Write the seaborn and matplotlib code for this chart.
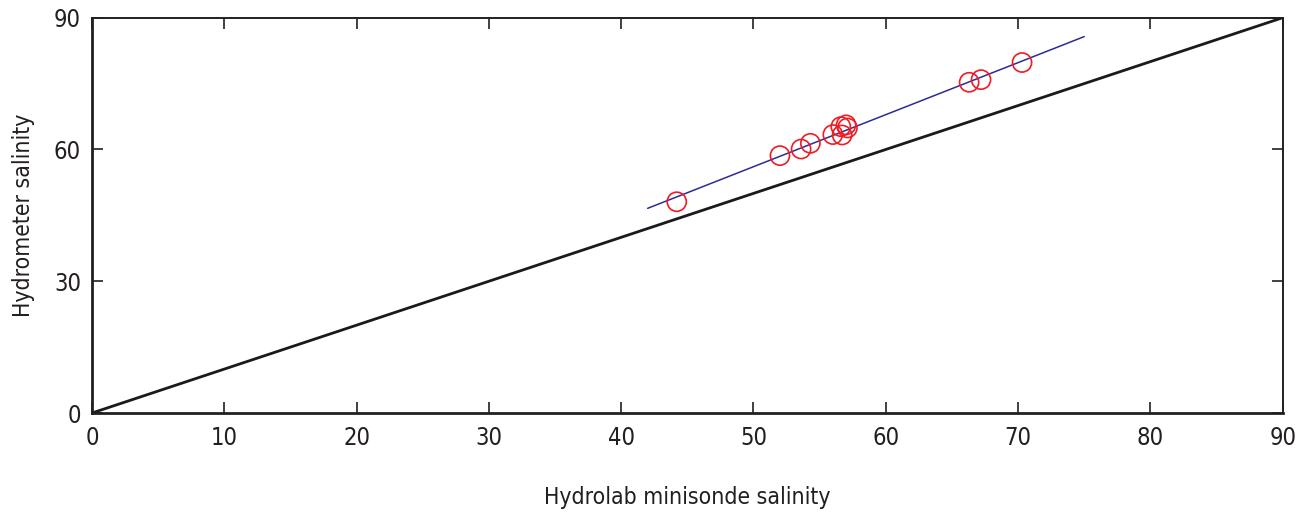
import numpy as np
import pandas as pd
import seaborn as sns
from matplotlib import pyplot as plt

# salinity readings
hydrolab = [44.2, 52.0, 53.6, 54.3, 56.0, 56.6, 56.7, 57.0, 57.1, 66.3, 67.2, 70.3]
hydrometer = [48.1, 58.6, 60.1, 61.4, 63.4, 65.2, 63.3, 65.6, 64.9, 75.3, 75.9, 79.8]

# fitted line end points and 1:1 line
fit_x = [42.0, 75.0]
fit_y = [46.6, 85.7]
one_x = [0, 90]
one_y = [0, 90]

ticks_x = [0, 10, 20, 30, 40, 50, 60, 70, 80, 90]
ticks_y = [0, 30, 60, 90]

df = pd.DataFrame({'hydrolab': hydrolab, 'hydrometer': hydrometer})

sns.set_theme(style='ticks')
plt.rcParams['font.family'] = ['DejaVu Sans']
plt.rcParams['font.stretch'] = 'condensed'

fig = plt.figure(figsize=(13.05, 5.18), dpi=100)
ax = fig.add_axes([0.0705, 0.2027, 0.9124, 0.7631])

sns.lineplot(x=one_x, y=one_y, ax=ax, color='#1a1a1a', linewidth=2.0)
sns.lineplot(x=fit_x, y=fit_y, ax=ax, color='#2b2b96', linewidth=1.1)
sns.scatterplot(data=df, x='hydrolab', y='hydrometer', ax=ax, marker='o', s=190,
                facecolor='none', edgecolor='#ee1c24', linewidth=1.2, zorder=5)

ax.set_xlim(0, 90)
ax.set_ylim(0, 90)
ax.set_xticks(ticks_x)
ax.set_yticks(ticks_y)
ax.tick_params(direction='in', length=8, width=1.2, top=True, right=True,
               labelsize=17, colors='#231f20')
ax.tick_params(axis='x', pad=9)
ax.tick_params(axis='y', pad=8)
for side in ['left', 'bottom']:
    ax.spines[side].set_linewidth(2.0)
for side in ['top', 'right']:
    ax.spines[side].set_linewidth(1.4)
for s in ax.spines.values():
    s.set_color('#231f20')

ax.set_xlabel('Hydrolab minisonde salinity', fontsize=16.5, color='#231f20')
ax.set_ylabel('Hydrometer salinity', fontsize=16.5, color='#231f20')
ax.xaxis.set_label_coords(0.5, -0.185)
ax.yaxis.set_label_coords(-0.048, 0.5)

fig.savefig('out.png', dpi=100)
